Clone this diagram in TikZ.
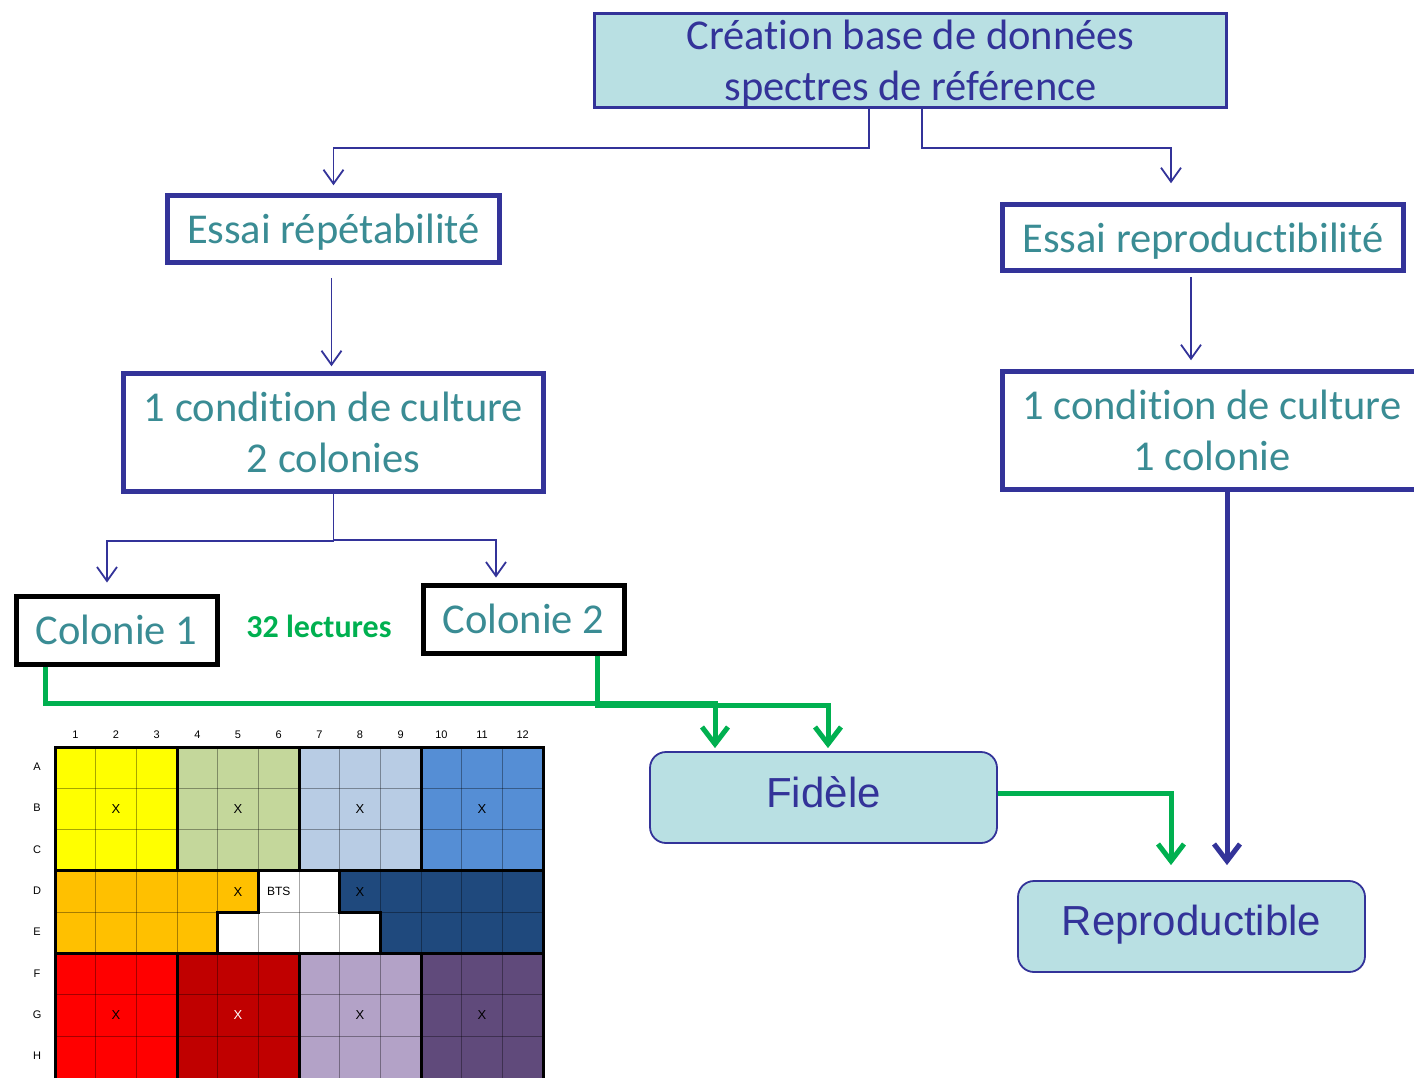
\documentclass[tikz,border=0pt]{standalone}
\usepackage{fontspec}
\setmainfont{Carlito}[RawFeature={-liga;-clig;-dlig}]
\newfontfamily\arialf{Liberation Sans}
\usetikzlibrary{arrows.meta,calc}
\definecolor{dblue}{RGB}{51,51,153}
\definecolor{tealtxt}{RGB}{58,140,148}
\definecolor{lteal}{RGB}{185,224,227}
\definecolor{grn}{RGB}{0,176,80}
\definecolor{pyellow}{RGB}{255,255,0}
\definecolor{polive}{RGB}{196,215,155}
\definecolor{plblue}{RGB}{184,204,228}
\definecolor{pblue}{RGB}{85,142,213}
\definecolor{porange}{RGB}{255,192,0}
\definecolor{pdblue}{RGB}{31,73,125}
\definecolor{pred}{RGB}{255,0,0}
\definecolor{pdred}{RGB}{192,0,0}
\definecolor{plav}{RGB}{179,162,199}
\definecolor{ppurp}{RGB}{96,74,123}
\newcommand{\downtxt}[2]{\raisebox{0pt}[\dimexpr\height+#1\relax]{#2}}
\newcommand{\uptxt}[2]{\raisebox{0pt}[\height][\dimexpr\depth+#1\relax]{#2}}
\begin{document}
\begin{tikzpicture}[x=1pt,y=-1pt,
  bigfont/.style={font=\fontsize{42.5}{51}\selectfont},
  thickbluebox/.style={draw=dblue,line width=4.5pt,fill=white,text=tealtxt,bigfont,align=center,inner sep=0pt},
  blackbox/.style={draw=black,line width=5pt,fill=white,text=tealtxt,bigfont,align=center,inner sep=0pt},
  topbox/.style={draw=dblue,line width=3pt,fill=lteal,text=dblue,bigfont,align=center,inner sep=0pt},
  roundbox/.style={draw=dblue,line width=1.8pt,fill=lteal,text=dblue,rounded corners=16pt,font=\arialf\fontsize{42}{50}\selectfont,inner sep=0pt},
  thinarrow/.style={draw=dblue,line width=1.8pt,-{Straight Barb[length=14pt,width=20pt]}},
  thickblue/.style={draw=dblue,line width=5pt,-{Straight Barb[length=17pt,width=26pt]}},
  greenarrow/.style={draw=grn,line width=5pt,-{Straight Barb[length=17pt,width=26pt]}},
  gridline/.style={draw=black,opacity=0.35,line width=0.9pt},
  blockline/.style={draw=black,line width=3pt,line join=miter},
  platelabel/.style={font=\arialf\fontsize{11}{13}\selectfont,text=black,inner sep=0pt},
  xmark/.style={font=\arialf\fontsize{13}{15}\selectfont,inner sep=0pt}
]
\useasboundingbox (0,0) rectangle (1414,1077);
\clip (0,0) rectangle (1414,1077);

% ---------- boxes ----------
\node[topbox,minimum width=632pt,minimum height=92pt] (top) at (910.5,60.5)
  {\downtxt{6pt}{Création base de données}\\spectres de référence};
\node[thickbluebox,minimum width=332pt,minimum height=67pt] (rep) at (333.5,229) {\downtxt{7pt}{Essai répétabilité}};
\node[thickbluebox,minimum width=401pt,minimum height=66pt] (repro) at (1203,237.5) {\downtxt{7pt}{Essai reproductibilité}};
\node[thickbluebox,minimum width=420pt,minimum height=118pt] (condA) at (333.5,432.5)
  {1 condition de culture\\2 colonies};
\node[thickbluebox,minimum width=419pt,minimum height=118pt] (condB) at (1212,430.5)
  {1 condition de culture\\1 colonie};
\node[blackbox,minimum width=201pt,minimum height=68pt] (colA) at (116.5,630) {Colonie 1};
\node[blackbox,minimum width=201pt,minimum height=68pt] (colB) at (523.5,619) {Colonie 2};
\node[font=\bfseries\fontsize{32}{38}\selectfont,text=grn,inner sep=0pt] (lect) at (319,626) {32 lectures};
\node[roundbox,minimum width=347pt,minimum height=91pt] (fid) at (823.5,797.5) {\uptxt{10pt}{Fidèle}};
\node[roundbox,minimum width=347pt,minimum height=91pt] (repr) at (1191.5,926.5) {\uptxt{4pt}{Reproductible}};

% ---------- connectors ----------
\draw[thinarrow] ([xshift=-41.5pt]top.south) -- ++(0,39) -| ([yshift=8pt]rep.north);
\draw[thinarrow] ([xshift=11.5pt]top.south) -- ++(0,39) -| ([xshift=-32pt,yshift=19pt]repro.north);
\draw[thinarrow] ([xshift=-2pt,yshift=-13pt]rep.south) -- ([xshift=-2pt,yshift=5pt]rep.south |- condA.north);
\draw[thinarrow] ([xshift=-12pt,yshift=-4pt]repro.south) -- ([xshift=-12pt,yshift=9pt]repro.south |- condB.north);
\draw[thinarrow] (condA.south) -- ++(0,47) -| ([xshift=-9.5pt,yshift=11pt]colA.north);
\draw[thinarrow] (condA.south) -- ++(0,46) -| ([xshift=-27.5pt,yshift=5pt]colB.north);
\draw[thickblue] ([xshift=15pt]condB.south) -- ([xshift=35.5pt,yshift=15pt]repr.north);
\draw[greenarrow] ([xshift=-71.5pt]colA.south) -- ++(0,37) -| ([xshift=-108.5pt,yshift=3pt]fid.north);
\draw[greenarrow] ([xshift=73.5pt]colB.south) -- ++(0,50) -| ([xshift=4.5pt,yshift=3pt]fid.north);
\draw[greenarrow] ([yshift=4.5pt]fid.east) -| ([xshift=-20.5pt,yshift=15pt]repr.north);

% ---------- plate ----------
\begin{scope}[shift={(55,747)},x=40.67pt,y=-41.3pt]
  % fills
  \fill[pyellow] (0,0) rectangle (3,3);
  \fill[polive] (3,0) rectangle (6,3);
  \fill[plblue] (6,0) rectangle (9,3);
  \fill[pblue] (9,0) rectangle (12,3);
  \fill[porange] (0,3) -- (5,3) -- (5,4) -- (4,4) -- (4,5) -- (0,5) -- cycle;
  \fill[white] (5,3) -- (7,3) -- (7,4) -- (8,4) -- (8,5) -- (4,5) -- (4,4) -- (5,4) -- cycle;
  \fill[pdblue] (7,3) -- (12,3) -- (12,5) -- (8,5) -- (8,4) -- (7,4) -- cycle;
  \fill[pred] (0,5) rectangle (3,8.2);
  \fill[pdred] (3,5) rectangle (6,8.2);
  \fill[plav] (6,5) rectangle (9,8.2);
  \fill[ppurp] (9,5) rectangle (12,8.2);
  % grid
  \foreach \c in {1,...,11} \draw[gridline] (\c,0) -- (\c,8.2);
  \foreach \r in {1,...,7} \draw[gridline] (0,\r) -- (12,\r);
  % block borders
  \draw[blockline] (0,0) rectangle (12,8.3);
  \draw[blockline] (3,0) -- (3,3) (6,0) -- (6,3) (9,0) -- (9,3);
  \draw[blockline] (0,3) -- (12,3);
  \draw[blockline] (0,5) -- (4,5) (8,5) -- (12,5);
  \draw[blockline] (5,3) -- (5,4) -- (4,4) -- (4,5) -- (8,5) -- (8,4) -- (7,4) -- (7,3);
  \draw[blockline] (3,5) -- (3,8.3) (6,5) -- (6,8.3) (9,5) -- (9,8.3);
  % labels
  \foreach \c in {1,...,12} \node[platelabel] (cl\c) at (\c-0.5,-0.29) {\c};
  \foreach \r/\l in {0/A,1/B,2/C,3/D,4/E,5/F,6/G,7/H}
    \node[platelabel] (rl\l) at (-0.44,\r+0.48) {\l};
  % marks
  \foreach \c/\r [count=\i] in {2/2,5/2,8/2,11/2,5/4,8/4,2/7,8/7,11/7}
    \node[xmark] (xm\i) at (\c-0.5,\r-0.5) {X};
  \node[xmark,text=white] (xmw) at (4.5,6.5) {X};
  \node[platelabel,font=\arialf\fontsize{12}{14}\selectfont] (bts) at (5.5,3.5) {BTS};
\end{scope}
\end{tikzpicture}
\end{document}
